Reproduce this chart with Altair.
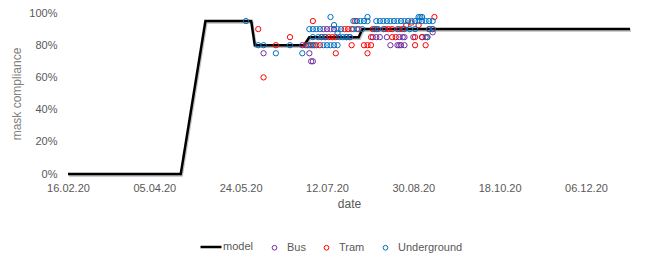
import altair as alt
import pandas as pd

# ---- model line ----
model_dates = ["2020-02-16", "2020-04-20", "2020-05-04", "2020-05-30", "2020-06-01",
               "2020-06-29", "2020-07-02", "2020-07-30", "2020-08-01", "2020-12-31"]
model_values = [0, 0, 95, 95, 80, 80, 85, 85, 90, 90]

# ---- observations (percent) ----
bus_dates = ["2020-06-06", "2020-06-28", "2020-07-02", "2020-07-03", "2020-07-04",
             "2020-07-10", "2020-07-12", "2020-07-14", "2020-07-16",
             "2020-07-23", "2020-07-25",
             "2020-08-07", "2020-08-09", "2020-08-11", "2020-08-15", "2020-08-22",
             "2020-08-24", "2020-08-25", "2020-08-30", "2020-09-04", "2020-09-06",
             "2020-08-17", "2020-08-21", "2020-08-22", "2020-08-23", "2020-08-25",
             "2020-09-10"]
bus_values = [75, 80, 75, 70, 70,
              90, 90, 90, 90,
              85, 85,
              85, 85, 85, 85, 85,
              85, 85, 85, 85, 85,
              80, 80, 80, 80, 80,
              88]

tram_dates = ["2020-06-03", "2020-06-06", "2020-06-13", "2020-06-21",
              "2020-06-30", "2020-07-02", "2020-07-04", "2020-07-06", "2020-07-08",
              "2020-07-04",
              "2020-07-09", "2020-07-11", "2020-07-13", "2020-07-15", "2020-07-17",
              "2020-07-17",
              "2020-07-22", "2020-07-24", "2020-07-26", "2020-07-30",
              "2020-07-28", "2020-07-26",
              "2020-08-02", "2020-08-04", "2020-08-06", "2020-08-04",
              "2020-08-07", "2020-08-09", "2020-08-14", "2020-08-16", "2020-08-18",
              "2020-08-06", "2020-08-18", "2020-08-20",
              "2020-08-26", "2020-08-29", "2020-09-02",
              "2020-09-11",
              "2020-08-22", "2020-08-24", "2020-09-08", "2020-09-10",
              "2020-08-31", "2020-09-04", "2020-09-07",
              "2020-08-31", "2020-09-06"]
tram_values = [90, 60, 80, 85,
               80, 80, 80, 80, 80,
               95,
               85, 85, 85, 85, 85,
               75,
               90, 90, 90, 90,
               95, 80,
               80, 80, 80, 75,
               90, 90, 90, 90, 90,
               85, 85, 85,
               92.5, 94, 92.5,
               97.5,
               90, 90, 90, 90,
               85, 85, 85,
               80, 80]

ug_dates = ["2020-05-27", "2020-06-03", "2020-06-06", "2020-06-13", "2020-06-21", "2020-06-28",
            "2020-07-01", "2020-07-03", "2020-07-05",
            "2020-07-02", "2020-07-04", "2020-07-06", "2020-07-08",
            "2020-07-04", "2020-07-07", "2020-07-09", "2020-07-11",
            "2020-07-10", "2020-07-12", "2020-07-14", "2020-07-16", "2020-07-18",
            "2020-07-14", "2020-07-16", "2020-07-18",
            "2020-07-18", "2020-07-20", "2020-07-27", "2020-07-29", "2020-08-01",
            "2020-07-19", "2020-07-21", "2020-07-23", "2020-07-25",
            "2020-07-27", "2020-07-29", "2020-07-31", "2020-08-02", "2020-08-04",
            "2020-08-09", "2020-08-11", "2020-08-13", "2020-08-15", "2020-08-17",
            "2020-08-19", "2020-08-21", "2020-08-23", "2020-08-25", "2020-08-27",
            "2020-08-29", "2020-08-31", "2020-09-02", "2020-09-04", "2020-09-06",
            "2020-09-08", "2020-09-10",
            "2020-08-04", "2020-09-02", "2020-09-03", "2020-09-04",
            "2020-08-08", "2020-08-10", "2020-08-13", "2020-08-21", "2020-08-25",
            "2020-08-28", "2020-08-31", "2020-09-08", "2020-09-10",
            "2020-09-07"]
ug_values = [95, 80, 80, 75, 80, 75,
             80, 80, 80,
             90, 90, 90, 90,
             85, 85, 85, 85,
             80, 80, 80, 80, 80,
             97.5, 92.5, 87.5,
             90, 90, 90, 90, 90,
             85, 85, 85, 85,
             95, 95, 95, 95, 95,
             95, 95, 95, 95, 95,
             95, 95, 95, 95, 95,
             95, 95, 95, 95, 95,
             95, 95,
             97.5, 97.5, 97.5, 97.5,
             90, 90, 90, 90, 90,
             90, 90, 90, 90,
             85]

series_names = ["Bus", "Tram", "Underground"]
series_colors = ["#7030A0", "#FF0000", "#0070C0"]

tick_dates = [(2020, 2, 16), (2020, 4, 5), (2020, 5, 24), (2020, 7, 12),
              (2020, 8, 30), (2020, 10, 18), (2020, 12, 6)]
y_ticks = [0, 0.2, 0.4, 0.6, 0.8, 1.0]

model_df = pd.DataFrame({"date": model_dates,
                         "value": [v / 100 for v in model_values],
                         "series": "model"})
pts_df = pd.concat([
    pd.DataFrame({"date": bus_dates, "value": [v / 100 for v in bus_values], "series": "Bus"}),
    pd.DataFrame({"date": tram_dates, "value": [v / 100 for v in tram_values], "series": "Tram"}),
    pd.DataFrame({"date": ug_dates, "value": [v / 100 for v in ug_values], "series": "Underground"}),
], ignore_index=True)

def dt(y, m, d):
    return alt.DateTime(year=y, month=m, date=d, utc=True)

x_scale = alt.Scale(type="utc", domain=[dt(2020, 2, 16), dt(2020, 12, 31)])
x_axis = alt.Axis(values=[dt(*t) for t in tick_dates], format="%d.%m.%y",
                  title="date", labelPadding=8, titlePadding=5, ticks=False,
                  domain=False, grid=False, labelColor="#595959", titleColor="#595959",
                  labelFontSize=11, titleFontSize=12, titleFontWeight="normal",
                  labelFlush=False)
y_scale = alt.Scale(domain=[0, 1])
y_axis = alt.Axis(values=y_ticks, format=".0%", title="mask compliance",
                  ticks=False, domain=False, grid=False, labelPadding=11,
                  titlePadding=5, labelColor="#595959", titleColor="#808080",
                  labelFontSize=11, titleFontSize=12, titleFontWeight="normal")

shadow = alt.Chart(model_df).mark_line(color="#bfbfbf", strokeWidth=2.5, yOffset=1.5, xOffset=1).encode(
    x=alt.X("date:T", scale=x_scale, axis=x_axis),
    y=alt.Y("value:Q", scale=y_scale, axis=y_axis),
)

line = alt.Chart(model_df).mark_line(color="black", strokeWidth=2.5).encode(
    x=alt.X("date:T", scale=x_scale, axis=x_axis),
    y=alt.Y("value:Q", scale=y_scale, axis=y_axis),
    strokeDash=alt.StrokeDash("series:N", scale=alt.Scale(domain=["model"], range=[[1, 0]]),
                              legend=alt.Legend(orient="none", legendX=131, legendY=222,
                                                title=None, symbolType="stroke",
                                                symbolSize=441, symbolStrokeWidth=2.5,
                                                symbolStrokeColor="black",
                                                labelOffset=0, labelFontSize=11,
                                                labelColor="#595959", padding=0)),
)

points = alt.Chart(pts_df).mark_point(filled=False, size=28, strokeWidth=1, opacity=1).encode(
    x=alt.X("date:T", scale=x_scale, axis=x_axis),
    y=alt.Y("value:Q", scale=y_scale, axis=y_axis),
    color=alt.Color("series:N", scale=alt.Scale(domain=series_names, range=series_colors),
                    legend=alt.Legend(orient="none", legendX=201, legendY=229,
                                      direction="horizontal", title=None,
                                      symbolType="circle", symbolSize=22,
                                      symbolStrokeWidth=1, symbolFillColor="transparent",
                                      labelOffset=7, columnPadding=15,
                                      labelFontSize=11, labelColor="#595959", padding=0)),
)

chart = alt.layer(shadow, line, points).properties(
    width=562, height=161,
    autosize=alt.AutoSizeParams(type="none"),
    padding={"left": 60, "top": 5, "right": 26, "bottom": 79},
).configure(font="Liberation Sans").configure_view(stroke=None)

chart.save("out.html", embed_options={"renderer": "svg", "actions": False})
